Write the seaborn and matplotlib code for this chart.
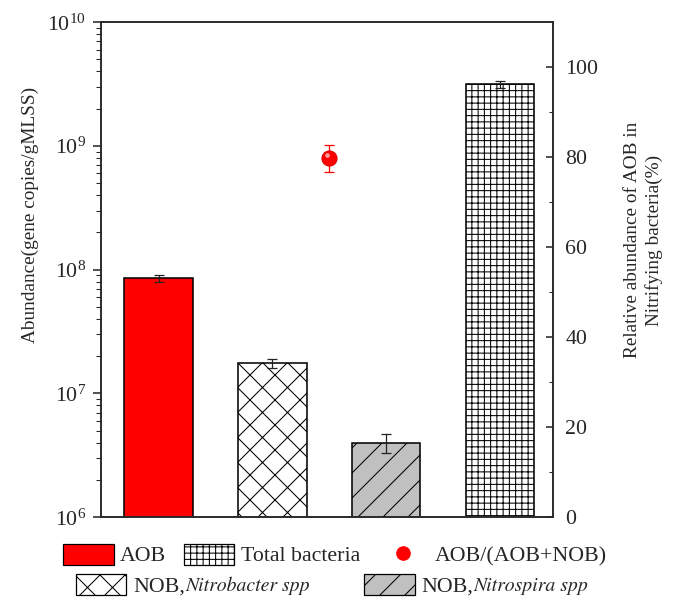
import numpy as np
import pandas as pd
import matplotlib
matplotlib.use("Agg")
import matplotlib.pyplot as plt
import matplotlib.transforms as mtransforms
import seaborn as sns
from matplotlib.patches import Patch
from matplotlib.lines import Line2D
from matplotlib.offsetbox import HPacker, TextArea

# ---- data ----
categories = ["AOB", "NOB,Nitrobacter spp", "NOB,Nitrospira spp", "Total bacteria"]
abundance = [8.5e7, 1.75e7, 4.0e6, 3.15e9]
abundance_err = [6e6, 1.5e6, 0.7e6, 0.2e9]
ratio_value = [79.8]
ratio_err = [3.0]

bar_colors = ["#ff0000", "#ffffff", "#c0c0c0", "#ffffff"]
bar_hatches = ["", "x", "/", "++"]

sns.set_theme(style="ticks")
plt.rcParams["font.family"] = ["Liberation Serif", "DejaVu Serif"]
plt.rcParams["mathtext.fontset"] = "custom"
plt.rcParams["mathtext.rm"] = "Liberation Serif"
plt.rcParams["mathtext.it"] = "STIXGeneral:italic"
plt.rcParams["hatch.linewidth"] = 1.0
FS_LAB = 18.5
FS_TICK = 21
FS_LEG = 21
FS_LEG_IT = 19

fig = plt.figure(figsize=(9, 8), dpi=75)
ax = fig.add_axes([0.149, 0.138, 0.670, 0.825])

df = pd.DataFrame({"cat": categories, "val": abundance})
sns.barplot(data=df, x="cat", y="val", hue="cat", palette=bar_colors,
            width=0.6, edgecolor="black", linewidth=1.5, legend=False,
            ax=ax, errorbar=None, saturation=1)
ax.set_yscale("log")
for p, h in zip(ax.patches, bar_hatches):
    p.set_hatch(h)
    p.set_edgecolor("black")

xs = [p.get_x() + p.get_width() / 2 for p in ax.patches]
ax.errorbar(xs, abundance, yerr=abundance_err, fmt="none", ecolor="#222222",
            elinewidth=1.2, capsize=5, capthick=1.2, zorder=5)

ax.set_ylim(1e6, 1e10)
ax.set_xlim(-0.51, 3.465)
ax.set_xticks([])
ax.set_xlabel("")
ax.set_ylabel("Abundance(gene copies/gMLSS)", fontsize=FS_LAB)
ax.yaxis.set_label_coords(-0.137, 0.61)
ax.tick_params(axis="y", which="major", direction="out", length=8, width=1.5,
               labelsize=FS_TICK, pad=6)
ax.tick_params(axis="y", which="minor", direction="out", length=5, width=1.0)
for s in ax.spines.values():
    s.set_linewidth(1.5)
    s.set_visible(True)

ax2 = ax.twinx()
ax2.set_ylim(0, 110)
ratio_x = [np.mean(np.arange(len(categories)))]
ax2.errorbar(ratio_x, ratio_value, yerr=ratio_err, fmt="o", color="red",
             markersize=14.5, ecolor="red", elinewidth=1.2, capsize=5, capthick=1.2,
             markeredgecolor="#e00000", zorder=6)
# small highlight for a glossy look
hl = mtransforms.offset_copy(ax2.transData, fig=fig, x=-2.5, y=2.5, units="points")
ax2.plot(ratio_x, ratio_value, "o", color="#ff9a9a", markersize=4.5,
         markeredgewidth=0, transform=hl, zorder=7)
ax2.set_yticks([0, 20, 40, 60, 80, 100])
ax2.set_yticks(np.arange(10, 110, 20), minor=True)
ax2.tick_params(axis="y", which="major", direction="in", length=7, width=1.5,
                labelsize=FS_TICK, pad=12)
ax2.tick_params(axis="y", which="minor", direction="in", length=4, width=1.0)
ax2.set_ylabel("Relative abundance of AOB in\nNitrifying bacteria(%)", fontsize=FS_LAB,
               linespacing=1.3)
ax2.yaxis.set_label_coords(1.158, 0.56)
for s in ax2.spines.values():
    s.set_linewidth(1.5)

# legends
h_aob = Patch(facecolor=bar_colors[0], edgecolor="black", hatch=bar_hatches[0], linewidth=1.2)
h_nb = Patch(facecolor=bar_colors[1], edgecolor="black", hatch=bar_hatches[1], linewidth=1.2)
h_ns = Patch(facecolor=bar_colors[2], edgecolor="black", hatch=bar_hatches[2], linewidth=1.2)
h_tot = Patch(facecolor=bar_colors[3], edgecolor="black", hatch=bar_hatches[3], linewidth=1.2)
h_pt = Line2D([], [], marker="o", color="red", linestyle="none", markersize=13)

leg1 = fig.legend([h_aob, h_tot, h_pt], ["AOB", "Total bacteria", "AOB/(AOB+NOB)"],
                  loc="center", bbox_to_anchor=(335 / 675, 1 - 555 / 600), ncol=3,
                  frameon=False, fontsize=FS_LEG, handlelength=2.3, handleheight=1.1,
                  columnspacing=0.8, handletextpad=0.3, borderpad=0, borderaxespad=0)
leg2 = fig.legend([h_nb, h_ns], [categories[1], categories[2]],
                  loc="center", bbox_to_anchor=(332 / 675, 1 - 585 / 600), ncol=2,
                  frameon=False, fontsize=FS_LEG, handlelength=2.3, handleheight=1.1,
                  columnspacing=2.5, handletextpad=0.3, borderpad=0, borderaxespad=0)

# make the genus names italic: replace each label by "NOB," + italic part
try:
    for col in leg2._legend_handle_box.get_children():
        for item in col.get_children():
            kids = item.get_children()
            ta = kids[1]
            prefix, genus = ta.get_text().split(",", 1)
            new = HPacker(children=[
                TextArea(prefix + ",", textprops=dict(fontsize=FS_LEG)),
                TextArea(genus, textprops=dict(fontsize=FS_LEG_IT, style="italic",
                                               family="STIXGeneral")),
            ], pad=0, sep=0, align="baseline")
            new.set_figure(fig)
            kids[1] = new
except Exception:
    for t in leg2.get_texts():
        prefix, genus = t.get_text().split(",", 1)
        t.set_text(prefix + ",$\\mathit{" + genus.replace(" ", "\\ ") + "}$")

fig.savefig("out.png", dpi=75)
